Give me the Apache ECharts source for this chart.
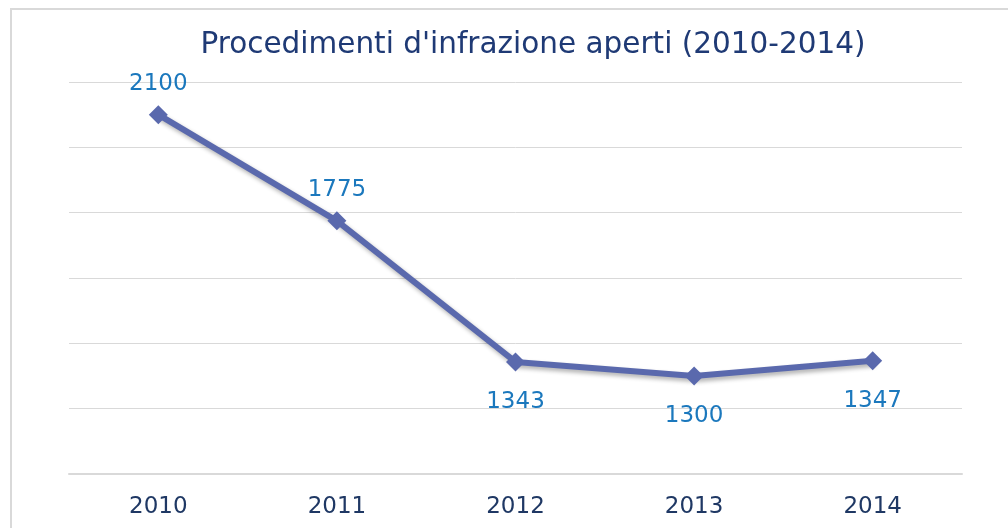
<!DOCTYPE html>
<html><head><meta charset="utf-8">
<script src="https://cdn.jsdelivr.net/npm/echarts@6/dist/echarts.min.js"></script>
<style>html,body{margin:0;padding:0;background:#fff}#c{width:1008px;height:528px}</style>
</head><body><div id="c"></div>
<script>
const years = ['2010','2011','2012','2013','2014'];
const values = [2100, 1775, 1343, 1300, 1347];
const labelPos = ['top','top','bottom','bottom','bottom'];
const chart = echarts.init(document.getElementById('c'));
chart.setOption({
  animation:false,
  backgroundColor:'#fff',
  graphic:[{type:'rect',shape:{x:11,y:9,width:1100,height:600},style:{fill:'none',stroke:'#d9d9d9',lineWidth:2},silent:true,z:-1}],
  title:{text:"Procedimenti d'infrazione aperti (2010-2014)",left:528,textAlign:'center',top:25,
    textStyle:{fontFamily:'DejaVu Sans',fontSize:29.5,fontWeight:'normal',color:'#1f3a75'}},
  grid:{left:69,right:46,top:82,bottom:54},
  xAxis:{type:'category',data:years,boundaryGap:true,
    axisLine:{lineStyle:{color:'#d9d9d9',width:2}},axisTick:{show:false},
    axisLabel:{fontFamily:'DejaVu Sans',fontSize:23,color:'#1f3864',margin:22}},
  yAxis:{type:'value',min:1000,max:2200,interval:200,
    axisLine:{show:false},axisTick:{show:false},axisLabel:{show:false},
    splitLine:{lineStyle:{color:'#d9d9d9',width:1}}},
  series:[{type:'line',data:values.map((v,i)=>({value:v,label:{position:labelPos[i],distance:labelPos[i]==='top'?10:19}})),
    symbol:'diamond',symbolSize:19,
    lineStyle:{color:'#5a69ad',width:6,shadowColor:'rgba(0,0,0,0.3)',shadowBlur:4,shadowOffsetX:2,shadowOffsetY:3},
    itemStyle:{color:'#5a69ad'},
    label:{show:true,fontFamily:'DejaVu Sans',fontSize:23,color:'#1b78bd'}}]
});
</script></body></html>
